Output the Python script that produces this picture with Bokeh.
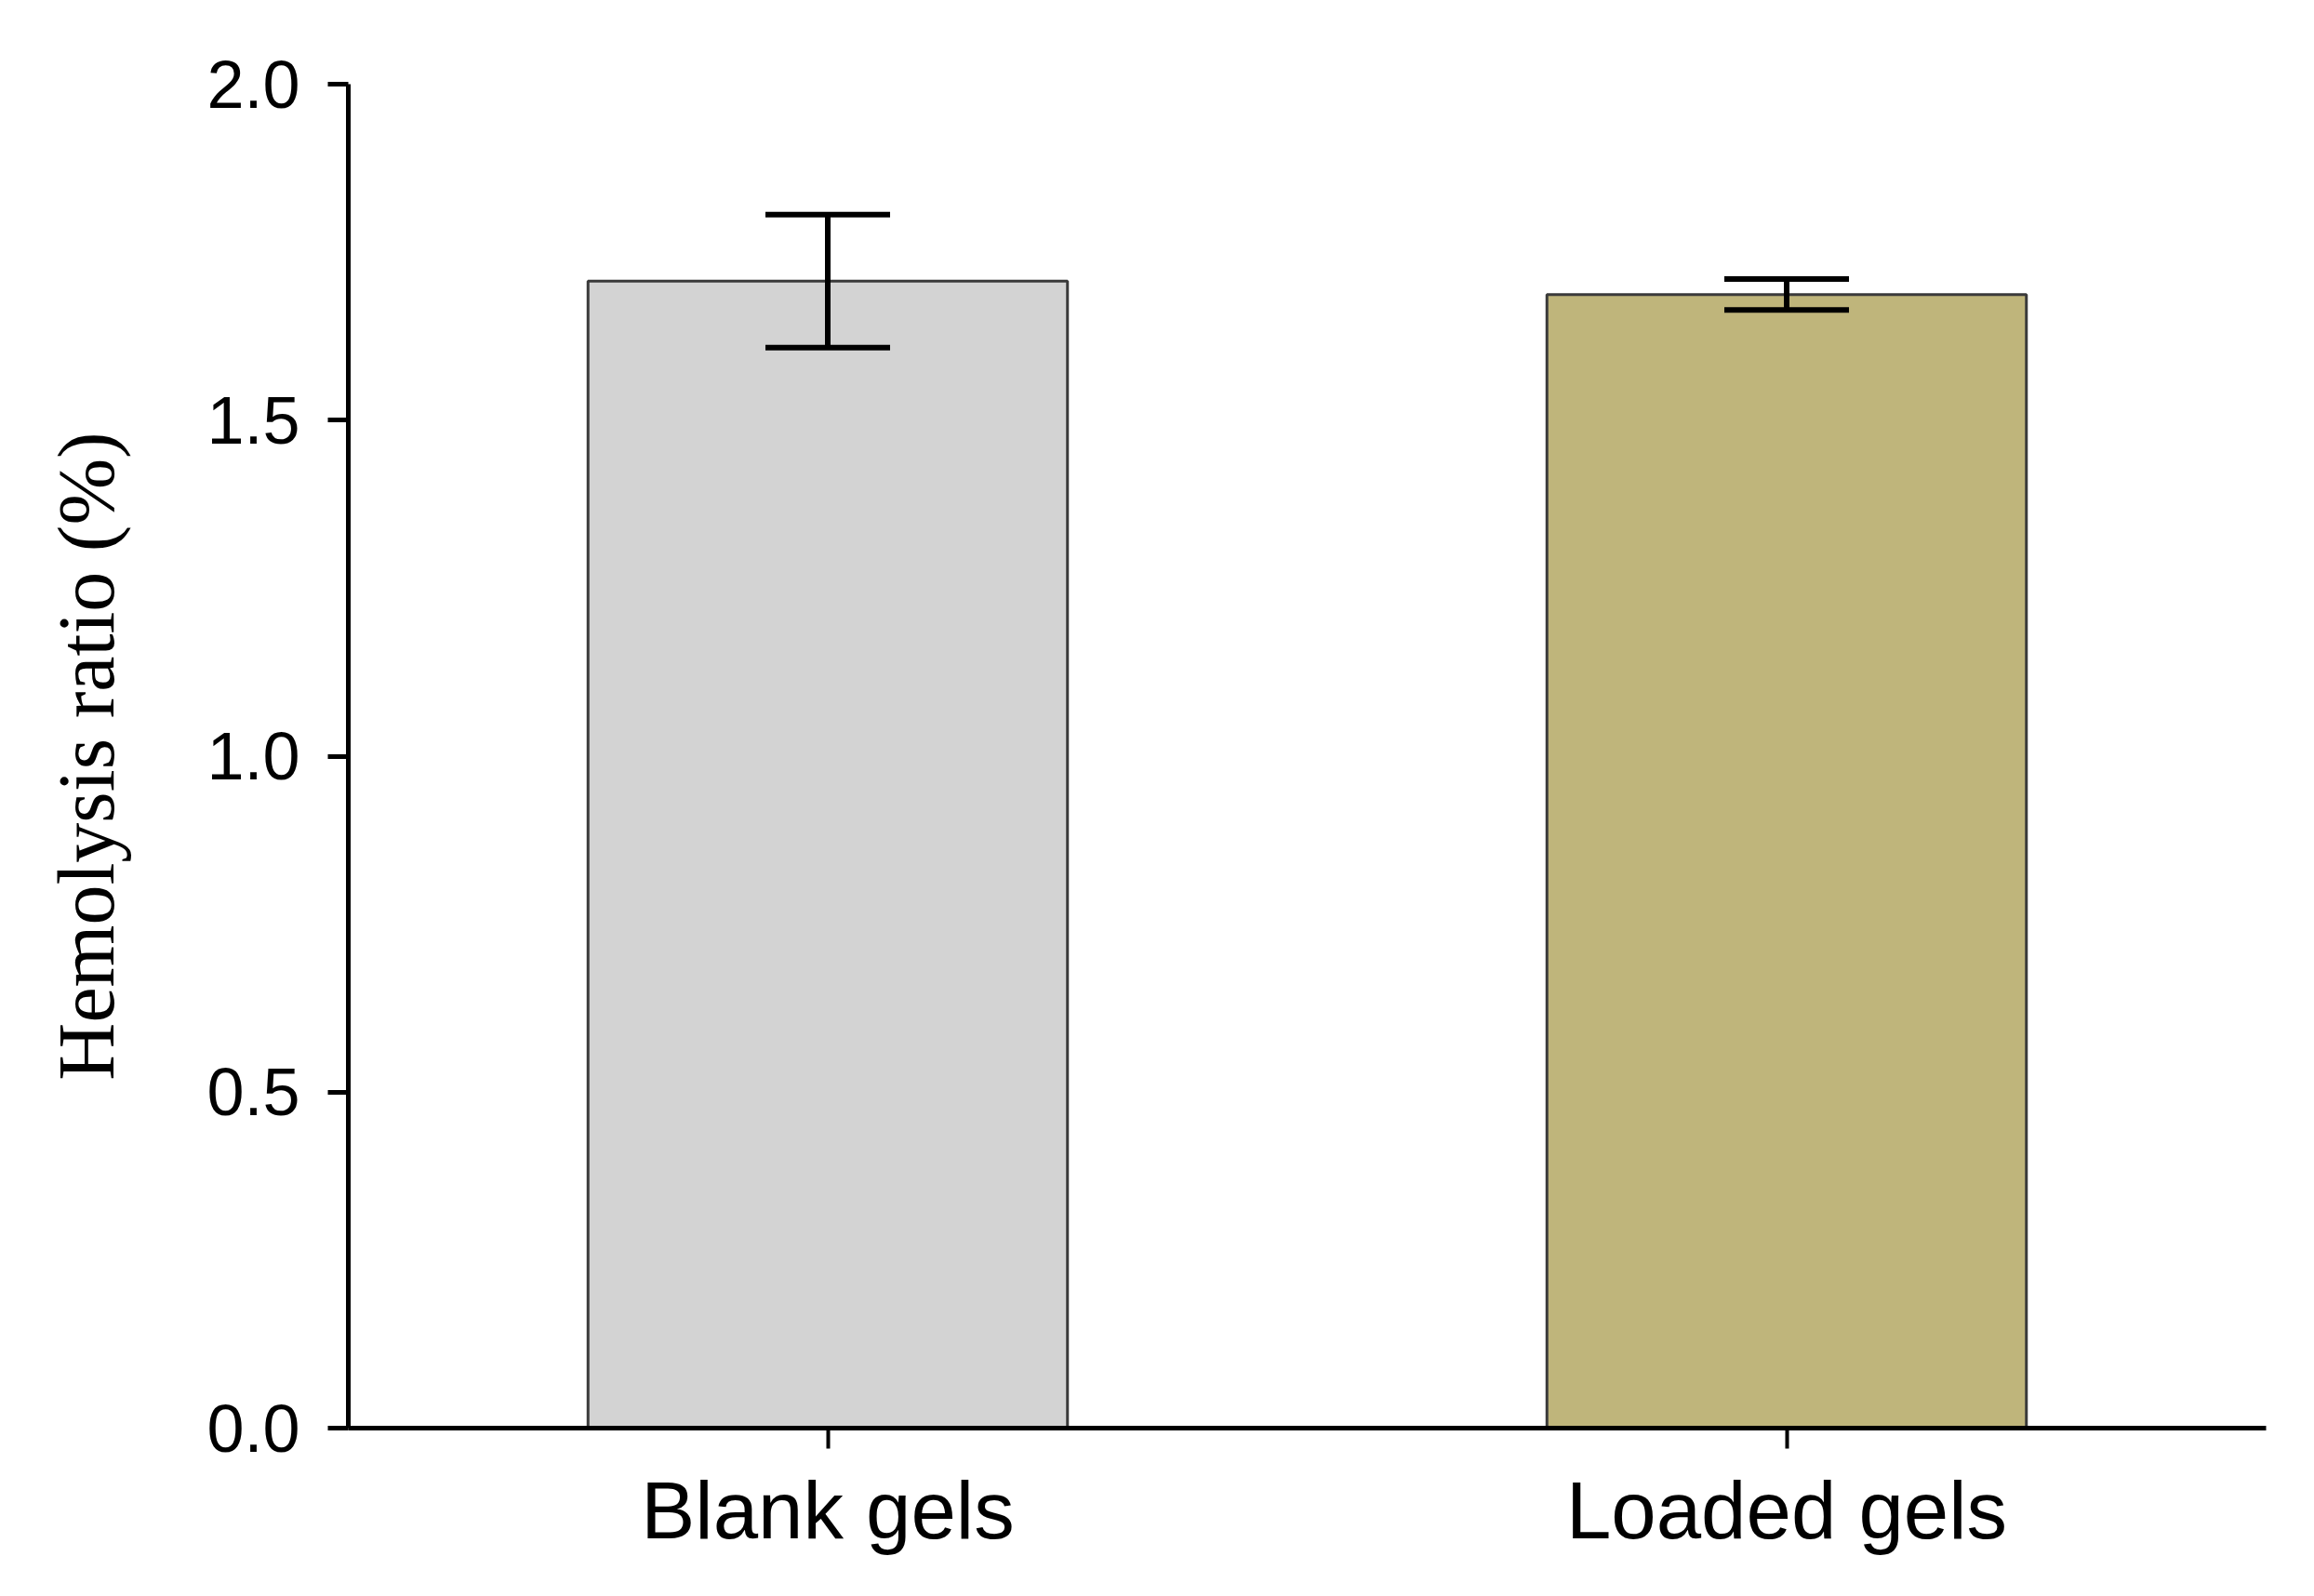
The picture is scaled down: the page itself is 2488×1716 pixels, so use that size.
from bokeh.plotting import figure
from bokeh.models import Range1d, FixedTicker, PrintfTickFormatter
from bokeh.embed import file_html
from bokeh.resources import INLINE

# ---- data ----
groups = ["Blank gels", "Loaded gels"]
positions = [0.5, 1.5]
means = [1.707, 1.687]
errors = [0.099, 0.023]
colors = ["#d3d3d3", "#bfb57b"]
y_ticks = [0.0, 0.5, 1.0, 1.5, 2.0]
y_label = "Hemolysis ratio (%)"

upper = [m + e for m, e in zip(means, errors)]
lower = [m - e for m, e in zip(means, errors)]
cap_half = 0.065
cap_left = [x - cap_half for x in positions]
cap_right = [x + cap_half for x in positions]

p = figure(width=2472, height=1700, output_backend="svg", toolbar_location=None,
           x_range=Range1d(0, 2), y_range=Range1d(0, 2),
           min_border_left=374, min_border_top=90, min_border_right=36, min_border_bottom=165)

p.vbar(x=positions, top=means, width=0.5, bottom=0, fill_color=colors,
       line_color="#3a3a3a", line_width=3)

# error bars
p.segment(x0=positions, y0=lower, x1=positions, y1=upper, line_color="black", line_width=6)
p.segment(x0=cap_left, y0=upper, x1=cap_right, y1=upper, line_color="black", line_width=6)
p.segment(x0=cap_left, y0=lower, x1=cap_right, y1=lower, line_color="black", line_width=6)

p.outline_line_color = None
p.xgrid.grid_line_color = None
p.ygrid.grid_line_color = None
p.background_fill_color = "white"
p.border_fill_color = "white"

# x axis
xa = p.xaxis[0]
xa.ticker = FixedTicker(ticks=positions)
xa.major_label_overrides = {pos: g for pos, g in zip(positions, groups)}
xa.minor_tick_line_color = None
xa.major_tick_out = 22
xa.major_tick_in = 0
xa.major_tick_line_width = 4
xa.axis_line_width = 5
xa.major_label_text_font = "Liberation Sans"
xa.major_label_text_font_size = "87px"
xa.major_label_text_color = "black"
xa.major_label_standoff = 17

# y axis
ya = p.yaxis[0]
ya.ticker = FixedTicker(ticks=y_ticks)
ya.formatter = PrintfTickFormatter(format="%.1f")
ya.minor_tick_line_color = None
ya.major_tick_out = 22
ya.major_tick_in = 0
ya.major_tick_line_width = 5
ya.axis_line_width = 5
ya.major_label_text_font = "Liberation Sans"
ya.major_label_text_font_size = "72px"
ya.major_label_text_color = "black"
ya.major_label_standoff = 30
ya.axis_label = y_label
ya.axis_label_text_font = "Liberation Serif"
ya.axis_label_text_font_style = "normal"
ya.axis_label_text_font_size = "86px"
ya.axis_label_text_color = "black"
ya.axis_label_standoff = 78

open("out.html", "w").write(file_html(p, INLINE))
